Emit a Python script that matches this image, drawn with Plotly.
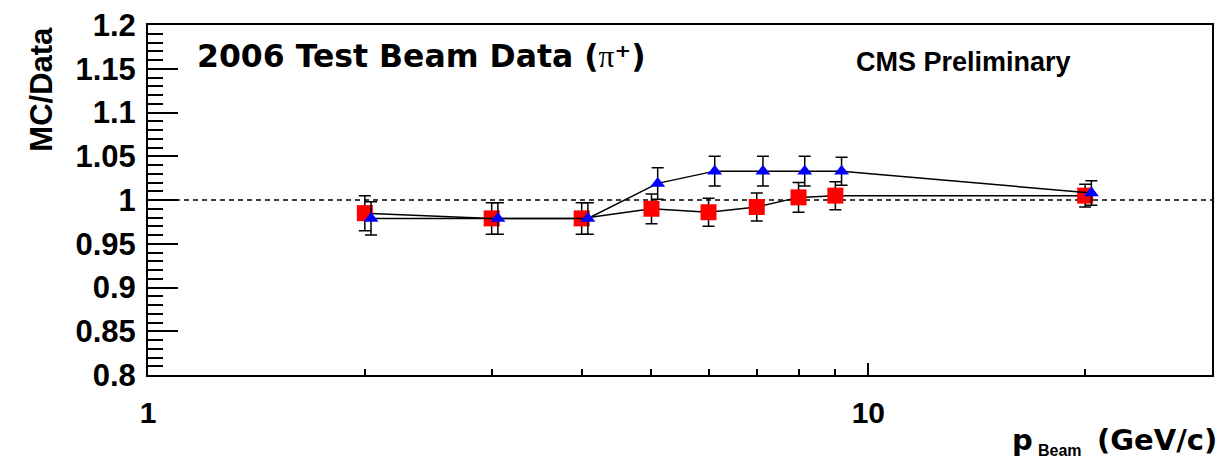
import plotly.graph_objects as go

# Data
p_beam = [2, 3, 4, 5, 6, 7, 8, 9, 20]
p_beam_shift = [2.04, 3.06, 4.08, 5.1, 6.12, 7.14, 8.16, 9.18, 20.4]
red_vals = [0.985, 0.979, 0.979, 0.990, 0.986, 0.992, 1.003, 1.005, 1.005]
red_errs = [0.020, 0.018, 0.018, 0.017, 0.016, 0.016, 0.017, 0.016, 0.013]
blue_vals = [0.979, 0.979, 0.979, 1.019, 1.033, 1.033, 1.033, 1.033, 1.008]
blue_errs = [0.019, 0.018, 0.018, 0.018, 0.017, 0.017, 0.017, 0.016, 0.014]

y_tickvals = [0.8, 0.85, 0.9, 0.95, 1.0, 1.05, 1.1, 1.15, 1.2]
y_ticktext = ["0.8", "0.85", "0.9", "0.95", "1", "1.05", "1.1", "1.15", "1.2"]
x_tickvals = [1, 10]
x_ticktext = ["1", "10"]
x_minor = [2, 3, 4, 5, 6, 7, 8, 9, 20, 30]

FONT = "Liberation Sans, Arial, Helvetica, sans-serif"
WIDE = "DejaVu Sans, Liberation Sans, sans-serif"

fig = go.Figure()

fig.add_shape(type="line", xref="paper", x0=0, x1=1, yref="y", y0=1, y1=1,
              line=dict(color="black", width=1.5, dash="5px,4px"), layer="below")

fig.add_trace(go.Scatter(
    x=p_beam, y=red_vals, mode="lines+markers",
    line=dict(color="black", width=1.5),
    marker=dict(symbol="square", size=16, color="#ff0000", line=dict(width=0)),
    error_y=dict(type="data", array=red_errs, color="black", thickness=1.5, width=6),
    showlegend=False,
))
fig.add_trace(go.Scatter(
    x=p_beam_shift, y=blue_vals, mode="lines+markers",
    line=dict(color="black", width=1.5),
    marker=dict(symbol="triangle-up", size=13, color="#0000ff", line=dict(width=0)),
    error_y=dict(type="data", array=blue_errs, color="black", thickness=1.5, width=6),
    showlegend=False,
))

fig.add_annotation(
    text="2006 Test Beam Data (<span style=\"font-family:Liberation Serif;font-weight:normal\">π</span>⁺)",
    xref="paper", yref="paper",
    x=0.0441, y=0.912, xanchor="left", yanchor="middle", showarrow=False,
    font=dict(family=WIDE, size=31.5, color="black", weight="bold"))
fig.add_annotation(text="CMS Preliminary", xref="paper", yref="paper",
                   x=0.6632, y=0.895, xanchor="left", yanchor="middle", showarrow=False,
                   font=dict(family=FONT, size=27, color="black", weight="bold"))
fig.add_annotation(text="MC/Data", xref="paper", yref="paper", textangle=-90,
                   x=-0.1004, y=1.0, xanchor="center", yanchor="top", showarrow=False,
                   font=dict(family=FONT, size=31, color="black", weight="bold"))
# x-axis title: "p" with a low subscript "Beam", then "(GeV/c)"
fig.add_annotation(text="p", xref="paper", yref="paper",
                   x=0.8105, y=-0.1857, xanchor="left", yanchor="middle", showarrow=False,
                   font=dict(family=WIDE, size=29, color="black", weight="bold"))
fig.add_annotation(text="Beam", xref="paper", yref="paper",
                   x=0.835, y=-0.2457, xanchor="left", yanchor="bottom", showarrow=False,
                   font=dict(family=FONT, size=16, color="black", weight="bold"))
fig.add_annotation(text="(GeV/c)", xref="paper", yref="paper",
                   x=1.0065, y=-0.1857, xanchor="right", yanchor="middle", showarrow=False,
                   font=dict(family=WIDE, size=29, color="black", weight="bold"))

fig.update_layout(
    width=1217, height=460,
    margin=dict(l=148, r=3, t=25, b=85),
    paper_bgcolor="white", plot_bgcolor="white",
    xaxis=dict(type="log", range=[0, 1.4771], showgrid=False, zeroline=False,
               tickvals=x_tickvals, ticktext=x_ticktext,
               ticks="inside", ticklen=12, tickwidth=1.5, tickcolor="black",
               minor=dict(tickvals=x_minor, ticks="inside", ticklen=6, tickwidth=1.5,
                          tickcolor="black", showgrid=False),
               showline=True, mirror=True, linecolor="black", linewidth=2,
               tickfont=dict(family=FONT, size=30, color="black", weight="bold"),
               ticklabelstandoff=10),
    yaxis=dict(range=[0.8, 1.2], showgrid=False, zeroline=False,
               tickvals=y_tickvals, ticktext=y_ticktext,
               ticks="inside", ticklen=30, tickwidth=1.5, tickcolor="black",
               minor=dict(dtick=0.01, ticks="inside", ticklen=15, tickwidth=1.5,
                          tickcolor="black", showgrid=False),
               showline=True, mirror=True, linecolor="black", linewidth=2,
               tickfont=dict(family=FONT, size=31, color="black", weight="bold"),
               ticklabelstandoff=4),
)

fig.write_html("out.html")
